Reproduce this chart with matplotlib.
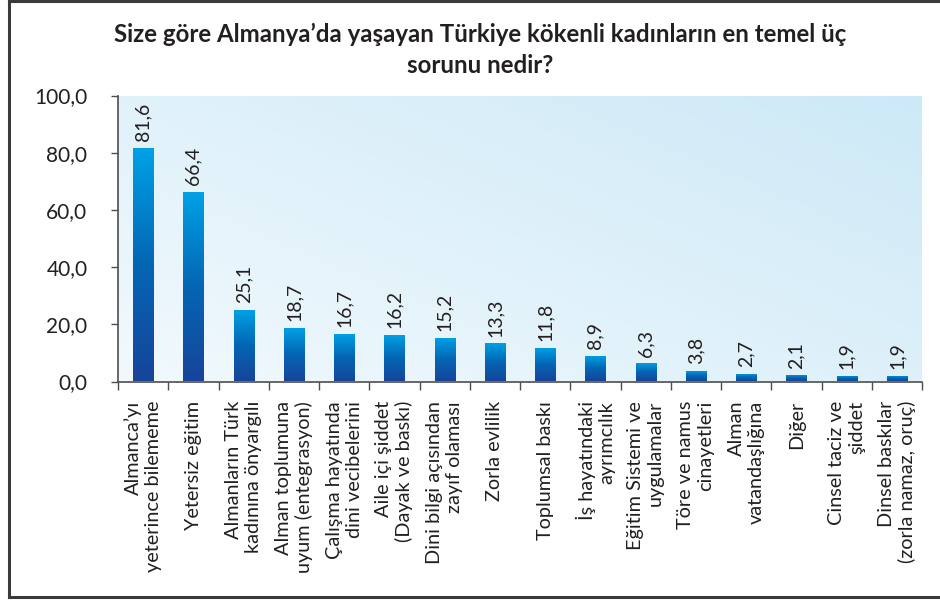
import numpy as np
import matplotlib
matplotlib.use("Agg")
import matplotlib.pyplot as plt
from matplotlib.colors import LinearSegmentedColormap
from matplotlib.lines import Line2D

plt.rcParams["font.family"] = ["Lato", "DejaVu Sans"]

title = "Size göre Almanya’da yaşayan Türkiye kökenli kadınların en temel üç\nsorunu nedir?"

categories = [
    "Almanca’yı\nyeterince bilememe",
    "Yetersiz eğitim",
    "Almanların Türk\nkadınına önyargılı",
    "Alman toplumuna\nuyum (entegrasyon)",
    "Çalışma hayatında\ndini vecibelerini",
    "Aile içi şiddet\n(Dayak ve baskı)",
    "Dini bilgi açısından\nzayıf olaması",
    "Zorla evlilik",
    "Toplumsal baskı",
    "İş hayatındaki\nayrımcılık",
    "Eğitim Sistemi ve\nuygulamalar",
    "Töre ve namus\ncinayetleri",
    "Alman\nvatandaşlığına",
    "Diğer",
    "Cinsel taciz ve\nşiddet",
    "Dinsel baskılar\n(zorla namaz, oruç)",
]
values = [81.6, 66.4, 25.1, 18.7, 16.7, 16.2, 15.2, 13.3, 11.8, 8.9,
          6.3, 3.8, 2.7, 2.1, 1.9, 1.9]
y_ticks = [0, 20, 40, 60, 80, 100]

text_color = "#231f20"
axis_color = "#4d4d4d"

fig = plt.figure(figsize=(9.4, 6.02), dpi=100)
ax = fig.add_axes([118 / 940, 1 - 381.5 / 602, (922 - 118) / 940, (381.5 - 95.5) / 602])

# soft diagonal background gradient for the plot area
bg_cmap = LinearSegmentedColormap.from_list("bg", ["#f1f9fd", "#cde9f7"])
gx, gy = np.meshgrid(np.linspace(0, 1, 200), np.linspace(0, 1, 200))
grad = 0.55 * gx + 0.45 * gy
ax.imshow(grad, cmap=bg_cmap, extent=[0, 1, 0, 1], origin="lower",
          transform=ax.transAxes, aspect="auto", zorder=0, interpolation="bilinear")
ax.patch.set_visible(False)

x = np.arange(len(values))
bars = ax.bar(x, values, width=0.4, color="none", edgecolor="none", zorder=2)

# vertical blue gradient inside each bar
bar_cmap = LinearSegmentedColormap.from_list("bar", ["#17449a", "#0466b4", "#00a2e6"])
vgrad = np.linspace(0, 1, 256).reshape(-1, 1)
for b in bars:
    x0, y0 = b.get_x(), b.get_y()
    w, h = b.get_width(), b.get_height()
    im = ax.imshow(vgrad, cmap=bar_cmap, extent=[x0, x0 + w, y0, y0 + h],
                   origin="lower", aspect="auto", zorder=3, interpolation="bilinear")
    im.set_clip_path(b)

for xi, v in zip(x, values):
    ax.annotate(f"{v:.1f}".replace(".", ","), (xi, v), xytext=(0, 5),
                textcoords="offset points", rotation=90, ha="center", va="bottom",
                fontsize=14, color=text_color, zorder=4)

ax.set_xlim(-0.5, len(values) - 0.5)
ax.set_ylim(0, 100)

ax.set_yticks(y_ticks)
ax.set_yticklabels([f"{t:.1f}".replace(".", ",") for t in y_ticks],
                   fontsize=15, color=text_color)
ax.tick_params(axis="y", direction="out", length=5, width=1, color=axis_color, pad=17)

# tick marks at category boundaries, labels at category centers
ax.set_xticks(np.arange(len(values) + 1) - 0.5)
ax.set_xticklabels([])
ax.tick_params(axis="x", which="major", direction="out", length=6, width=1, color=axis_color)
ax.set_xticks(x, minor=True)
ax.set_xticklabels(categories, minor=True, rotation=90, ha="center", va="top",
                   multialignment="right", fontsize=14.3, color=text_color)
ax.tick_params(axis="x", which="minor", length=0, pad=14)

for s in ["top", "right"]:
    ax.spines[s].set_visible(False)
for s in ["left", "bottom"]:
    ax.spines[s].set_color(axis_color)
    ax.spines[s].set_linewidth(1.2)
    ax.spines[s].set_zorder(5)

fig.text(480 / 940, 1 - 50 / 602, title, ha="center", va="center",
         fontsize=17.3, fontweight="bold", color=text_color, linespacing=1.45)

# outer frame (left, top, bottom edges)
frame_kw = dict(color="#3a3a3a", linewidth=2.2, transform=fig.transFigure)
fig.add_artist(Line2D([8.5 / 940, 8.5 / 940], [1 - 597 / 602, 1.0], **frame_kw))
fig.add_artist(Line2D([8.5 / 940, 1.0], [1.0 - 0.5 / 602, 1.0 - 0.5 / 602], **frame_kw))
fig.add_artist(Line2D([8.5 / 940, 1.0], [1 - 597 / 602, 1 - 597 / 602], **frame_kw))

fig.savefig("out.png", dpi=100)
